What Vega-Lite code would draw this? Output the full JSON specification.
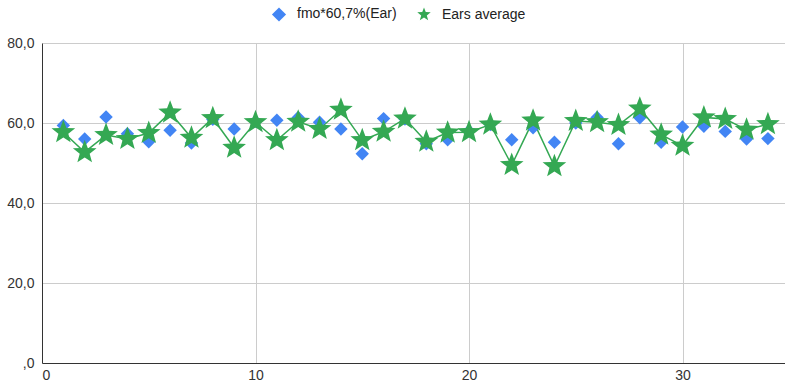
{
  "$schema": "https://vega.github.io/schema/vega-lite/v6.json",
  "width": 743,
  "height": 320,
  "autosize": {"type": "none"},
  "padding": {"left": 42, "top": 43, "right": 0, "bottom": 20},
  "background": "white",
  "config": {
    "view": {"stroke": null},
    "font": "Liberation Sans",
    "axis": {"labelFont": "Liberation Sans", "labelFontSize": 14, "labelColor": "#333333", "gridWidth": 1, "domainColor": "#333333", "domainWidth": 1, "ticks": false, "title": null}
  },
  "data": {"values": [
    {"x":1,"series":"fmo*60,7%(Ear)","v":59.4},
    {"x":2,"series":"fmo*60,7%(Ear)","v":56.0},
    {"x":3,"series":"fmo*60,7%(Ear)","v":61.5},
    {"x":4,"series":"fmo*60,7%(Ear)","v":57.3},
    {"x":5,"series":"fmo*60,7%(Ear)","v":55.3},
    {"x":6,"series":"fmo*60,7%(Ear)","v":58.2},
    {"x":7,"series":"fmo*60,7%(Ear)","v":55.0},
    {"x":8,"series":"fmo*60,7%(Ear)","v":60.9},
    {"x":9,"series":"fmo*60,7%(Ear)","v":58.5},
    {"x":10,"series":"fmo*60,7%(Ear)","v":60.4},
    {"x":11,"series":"fmo*60,7%(Ear)","v":60.7},
    {"x":12,"series":"fmo*60,7%(Ear)","v":61.4},
    {"x":13,"series":"fmo*60,7%(Ear)","v":60.2},
    {"x":14,"series":"fmo*60,7%(Ear)","v":58.5},
    {"x":15,"series":"fmo*60,7%(Ear)","v":52.3},
    {"x":16,"series":"fmo*60,7%(Ear)","v":61.1},
    {"x":17,"series":"fmo*60,7%(Ear)","v":61.0},
    {"x":18,"series":"fmo*60,7%(Ear)","v":54.8},
    {"x":19,"series":"fmo*60,7%(Ear)","v":55.8},
    {"x":20,"series":"fmo*60,7%(Ear)","v":58.0},
    {"x":21,"series":"fmo*60,7%(Ear)","v":59.6},
    {"x":22,"series":"fmo*60,7%(Ear)","v":55.8},
    {"x":23,"series":"fmo*60,7%(Ear)","v":58.8},
    {"x":24,"series":"fmo*60,7%(Ear)","v":55.2},
    {"x":25,"series":"fmo*60,7%(Ear)","v":60.0},
    {"x":26,"series":"fmo*60,7%(Ear)","v":61.4},
    {"x":27,"series":"fmo*60,7%(Ear)","v":54.8},
    {"x":28,"series":"fmo*60,7%(Ear)","v":61.3},
    {"x":29,"series":"fmo*60,7%(Ear)","v":55.2},
    {"x":30,"series":"fmo*60,7%(Ear)","v":59.0},
    {"x":31,"series":"fmo*60,7%(Ear)","v":59.2},
    {"x":32,"series":"fmo*60,7%(Ear)","v":57.9},
    {"x":33,"series":"fmo*60,7%(Ear)","v":56.0},
    {"x":34,"series":"fmo*60,7%(Ear)","v":56.1},
    {"x":1,"series":"Ears average","v":57.7},
    {"x":2,"series":"Ears average","v":52.7},
    {"x":3,"series":"Ears average","v":57.0},
    {"x":4,"series":"Ears average","v":56.0},
    {"x":5,"series":"Ears average","v":57.5},
    {"x":6,"series":"Ears average","v":62.6},
    {"x":7,"series":"Ears average","v":56.3},
    {"x":8,"series":"Ears average","v":61.2},
    {"x":9,"series":"Ears average","v":53.8},
    {"x":10,"series":"Ears average","v":60.2},
    {"x":11,"series":"Ears average","v":55.7},
    {"x":12,"series":"Ears average","v":60.3},
    {"x":13,"series":"Ears average","v":58.5},
    {"x":14,"series":"Ears average","v":63.3},
    {"x":15,"series":"Ears average","v":55.7},
    {"x":16,"series":"Ears average","v":57.8},
    {"x":17,"series":"Ears average","v":61.1},
    {"x":18,"series":"Ears average","v":55.3},
    {"x":19,"series":"Ears average","v":57.6},
    {"x":20,"series":"Ears average","v":57.7},
    {"x":21,"series":"Ears average","v":59.6},
    {"x":22,"series":"Ears average","v":49.5},
    {"x":23,"series":"Ears average","v":60.6},
    {"x":24,"series":"Ears average","v":49.2},
    {"x":25,"series":"Ears average","v":60.5},
    {"x":26,"series":"Ears average","v":60.2},
    {"x":27,"series":"Ears average","v":59.5},
    {"x":28,"series":"Ears average","v":63.6},
    {"x":29,"series":"Ears average","v":57.1},
    {"x":30,"series":"Ears average","v":54.3},
    {"x":31,"series":"Ears average","v":61.4},
    {"x":32,"series":"Ears average","v":61.0},
    {"x":33,"series":"Ears average","v":58.3},
    {"x":34,"series":"Ears average","v":59.7}
  ]},
  "layer": [
    {
      "transform": [{"filter": "datum.series == 'Ears average'"}],
      "mark": {"type": "line", "color": "#34A853", "strokeWidth": 1.5},
      "encoding": {
        "x": {"field": "x", "type": "quantitative", "scale": {"domain": [0, 34.8], "nice": false},
          "axis": {"values": [0, 10, 20, 30], "labelPadding": 5, "grid": true, "format": "d",
            "gridColor": {"condition": {"test": "datum.value === 0", "value": "transparent"}, "value": "#cccccc"}}},
        "y": {"field": "v", "type": "quantitative", "scale": {"domain": [0, 80], "nice": false},
          "axis": {"values": [0, 20, 40, 60, 80], "labelPadding": 8, "grid": true,
            "gridColor": {"condition": {"test": "datum.value === 0", "value": "transparent"}, "value": "#cccccc"},
            "labelExpr": "datum.value == 0 ? ',0' : replace(format(datum.value, '.1f'), '.', ',')"}}
      }
    },
    {
      "mark": {"type": "point", "filled": true, "opacity": 1},
      "encoding": {
        "x": {"field": "x", "type": "quantitative"},
        "y": {"field": "v", "type": "quantitative"},
        "color": {"field": "series", "type": "nominal",
          "scale": {"domain": ["fmo*60,7%(Ear)", "Ears average"], "range": ["#4285F4", "#34A853"]},
          "legend": {"title": null, "orient": "none", "direction": "horizontal", "legendX": 229, "legendY": -37,
            "labelFont": "Liberation Sans", "labelFontSize": 14, "labelColor": "#222222", "symbolSize": 200, "columnPadding": 19, "labelOffset": 10}},
        "shape": {"field": "series", "type": "nominal",
          "scale": {"domain": ["fmo*60,7%(Ear)", "Ears average"], "range": ["diamond", "M0,-1L0.247,-0.34L0.951,-0.309L0.399,0.13L0.588,0.809L0,0.42L-0.588,0.809L-0.399,0.13L-0.951,-0.309L-0.247,-0.34Z"]}},
        "size": {"condition": {"test": "datum.series == 'Ears average'", "value": 620}, "value": 180}
      }
    }
  ]
}
